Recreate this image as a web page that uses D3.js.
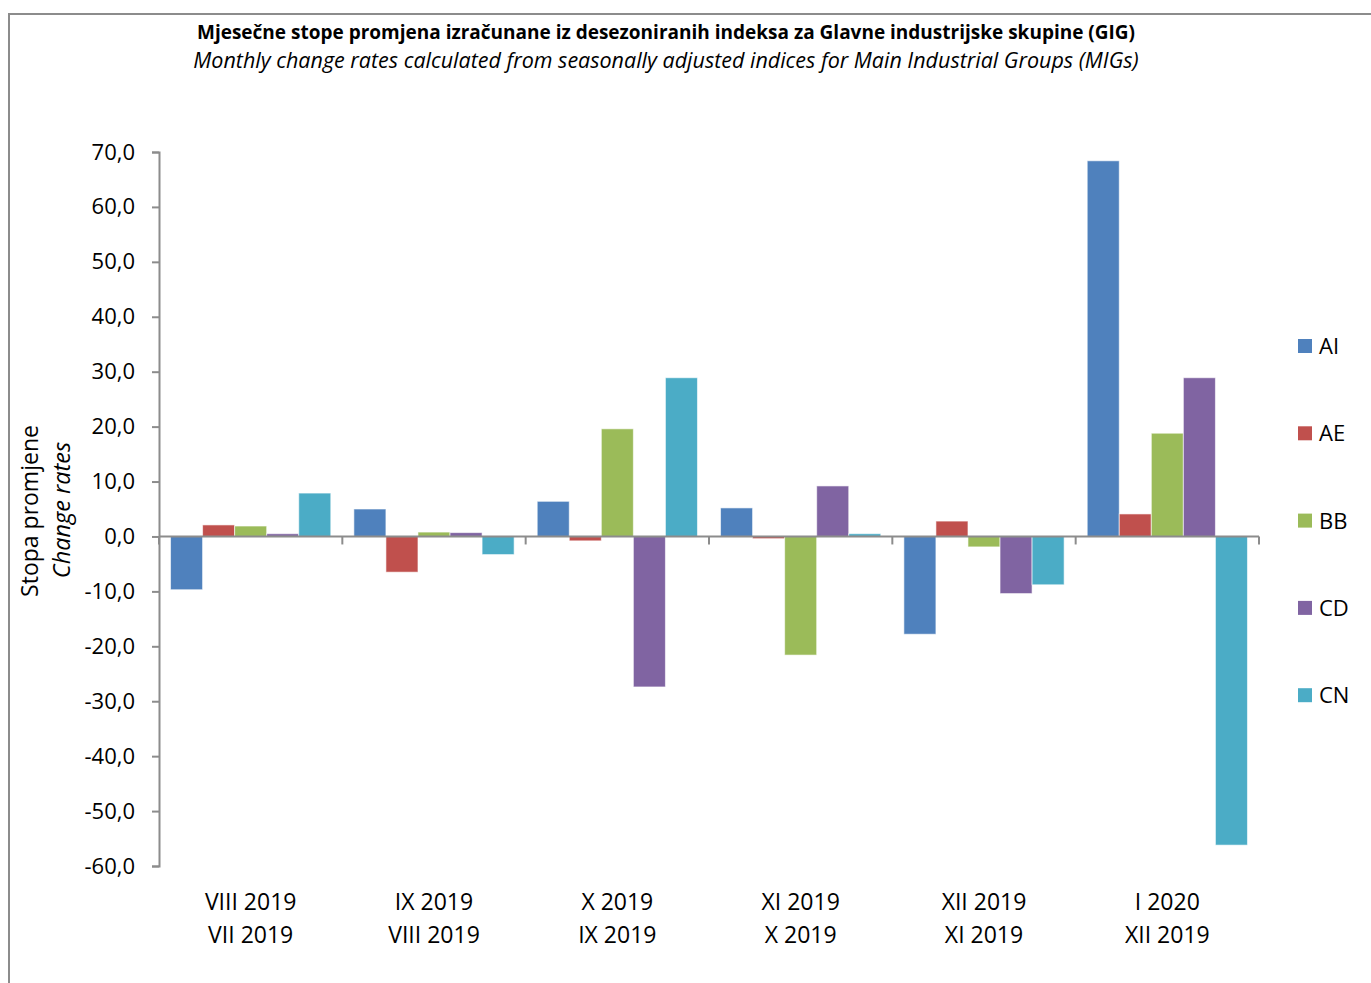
<!DOCTYPE html>
<html>
<head>
<meta charset="utf-8">
<script src="https://cdn.jsdelivr.net/npm/d3@7"></script>
<style>
  body { margin: 0; background: #fff; }
  text { font-family: "Open Sans", "Noto Sans", sans-serif; fill: #000; }
</style>
</head>
<body>
<script>
// Data
var categories = [["VIII 2019", "VII 2019"], ["IX 2019", "VIII 2019"], ["X 2019", "IX 2019"],
                  ["XI 2019", "X 2019"], ["XII 2019", "XI 2019"], ["I 2020", "XII 2019"]];
var seriesNames = ["AI", "AE", "BB", "CD", "CN"];
var seriesColors = ["#4F81BD", "#C0504D", "#9BBB59", "#8064A2", "#4BACC6"];
var valuesAI = [-9.7, 5.0, 6.4, 5.2, -17.8, 68.4];
var valuesAE = [2.1, -6.5, -0.8, -0.4, 2.8, 4.1];
var valuesBB = [1.9, 0.8, 19.6, -21.6, -1.9, 18.8];
var valuesCD = [0.5, 0.7, -27.4, 9.2, -10.4, 28.9];
var valuesCN = [7.9, -3.3, 28.9, 0.5, -8.8, -56.2];
var yTicks = [70, 60, 50, 40, 30, 20, 10, 0, -10, -20, -30, -40, -50, -60];

var series = [valuesAI, valuesAE, valuesBB, valuesCD, valuesCN];

var W = 1371, H = 983;
var svg = d3.select("body").append("svg")
    .attr("width", W)
    .attr("height", H);

// Outer frame
svg.append("path")
    .attr("d", "M9,983 V14 H1371")
    .attr("fill", "none")
    .attr("stroke", "#8c8c8c")
    .attr("stroke-width", 2);

// Titles
svg.append("text")
    .attr("x", 666).attr("y", 39)
    .attr("text-anchor", "middle")
    .style("font-weight", "bold")
    .style("font-size", "19px")
    .text("Mjesečne stope promjena izračunane iz desezoniranih indeksa za Glavne industrijske skupine (GIG)");

svg.append("text")
    .attr("x", 666).attr("y", 68)
    .attr("text-anchor", "middle")
    .style("font-style", "italic")
    .style("font-size", "21.5px")
    .text("Monthly change rates calculated from seasonally adjusted indices for Main Industrial Groups (MIGs)");

// Scales
var x0 = d3.scaleBand()
    .domain(d3.range(categories.length))
    .range([159, 1259])
    .paddingInner(0)
    .paddingOuter(0);

var x1 = d3.scaleBand()
    .domain(d3.range(seriesNames.length))
    .range([0, x0.bandwidth()])
    .paddingOuter(0.36)
    .paddingInner(0);

var y = d3.scaleLinear()
    .domain([-60, 70])
    .range([866, 152]);

var axisColor = "#8c8c8c";

// Bars
var groups = svg.selectAll(".series")
    .data(series)
    .enter()
    .append("g")
    .attr("class", "series")
    .attr("fill", function(d, i) { return seriesColors[i]; });

groups.each(function(vals, si) {
    d3.select(this).selectAll("rect")
        .data(vals)
        .enter()
        .append("rect")
        .attr("x", function(d, ci) { return x0(ci) + x1(si); })
        .attr("width", x1.bandwidth())
        .attr("y", function(d) { return y(Math.max(0, d)); })
        .attr("height", function(d) { return Math.abs(y(d) - y(0)); })
        .attr("stroke", "#fff")
        .attr("stroke-opacity", 0.6)
        .attr("stroke-width", 1);
});

// Y axis
var yAxis = d3.axisLeft(y)
    .tickValues(yTicks)
    .tickSize(7)
    .tickPadding(17)
    .tickFormat(function(d) { return d3.format(".1f")(d).replace(".", ",").replace("−", "-"); });

var gy = svg.append("g")
    .attr("transform", "translate(159,0)")
    .call(yAxis);
gy.select(".domain").attr("stroke", axisColor).attr("stroke-width", 2);
gy.selectAll(".tick line").attr("stroke", axisColor).attr("stroke-width", 2);
gy.selectAll(".tick text").style("font-size", "22px").attr("fill", "#000");

// X axis line at zero with ticks at category boundaries
var boundaries = d3.range(categories.length + 1).map(function(i) {
    return i < categories.length ? x0(i) : x0.range()[1];
});
svg.append("line")
    .attr("x1", 159).attr("x2", 1259)
    .attr("y1", y(0)).attr("y2", y(0))
    .attr("stroke", axisColor)
    .attr("stroke-width", 2);
svg.selectAll(".xtick")
    .data(boundaries)
    .enter()
    .append("line")
    .attr("class", "xtick")
    .attr("x1", function(d) { return d; })
    .attr("x2", function(d) { return d; })
    .attr("y1", y(0))
    .attr("y2", y(0) + 8)
    .attr("stroke", axisColor)
    .attr("stroke-width", 2);

// Category labels
var catLabels = svg.selectAll(".cat")
    .data(categories)
    .enter()
    .append("text")
    .attr("class", "cat")
    .attr("text-anchor", "middle")
    .style("font-size", "23px");
catLabels.append("tspan")
    .attr("x", function(d, i) { return x0(i) + x0.bandwidth() / 2; })
    .attr("y", 910)
    .text(function(d) { return d[0]; });
catLabels.append("tspan")
    .attr("x", function(d, i) { return x0(i) + x0.bandwidth() / 2; })
    .attr("y", 943)
    .text(function(d) { return d[1]; });

// Y axis title
svg.append("text")
    .attr("transform", "translate(38,511) rotate(-90)")
    .attr("text-anchor", "middle")
    .style("font-size", "23px")
    .text("Stopa promjene");
svg.append("text")
    .attr("transform", "translate(70,510) rotate(-90)")
    .attr("text-anchor", "middle")
    .style("font-size", "23.5px")
    .style("font-style", "italic")
    .text("Change rates");

// Legend
var legend = svg.selectAll(".legend")
    .data(seriesNames)
    .enter()
    .append("g")
    .attr("class", "legend")
    .attr("transform", function(d, i) { return "translate(1298," + (346 + i * 87.3) + ")"; });
legend.append("rect")
    .attr("x", 0).attr("y", -7)
    .attr("width", 14).attr("height", 14)
    .attr("fill", function(d, i) { return seriesColors[i]; });
legend.append("text")
    .attr("x", 21).attr("y", 8)
    .style("font-size", "22px")
    .text(function(d) { return d; });
</script>
</body>
</html>
